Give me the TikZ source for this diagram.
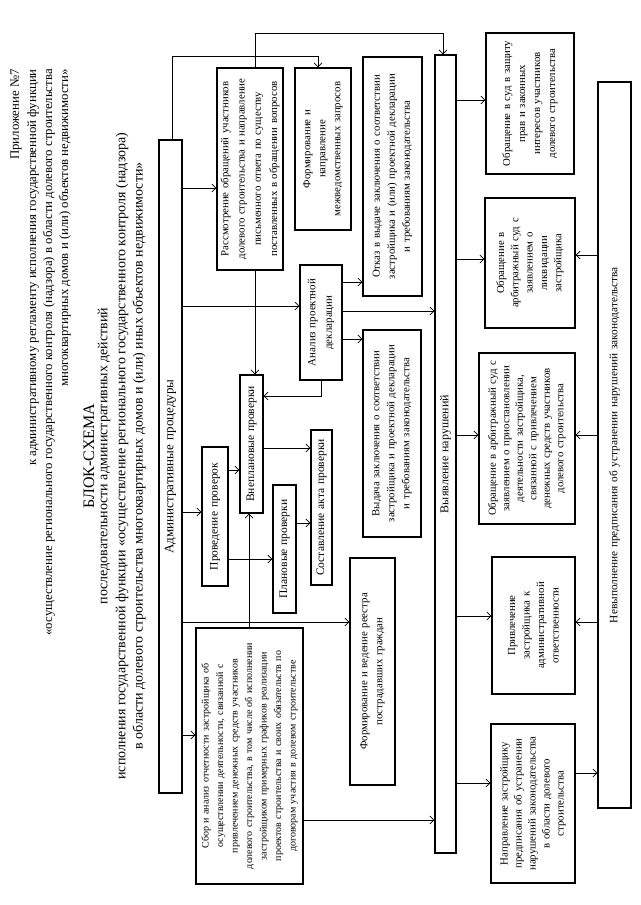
\documentclass[tikz,border=0pt]{standalone}
\usepackage{fontspec}
\setmainfont{Liberation Serif}
\usetikzlibrary{arrows.meta}
\tikzset{
 box/.style={draw, line width=1.4pt, rotate=90, align=center, inner sep=1pt, font=\fontsize{10.8}{15}\selectfont},
 one/.style={font=\fontsize{11.5}{14}\selectfont},
 arr/.style={line width=0.6pt, -{Straight Barb[length=4pt,width=8pt]}},
 hdr/.style={rotate=90, anchor=east, font=\fontsize{12.8}{14}\selectfont, inner sep=0pt},
 ttl/.style={rotate=90, anchor=center, font=\fontsize{14}{16}\selectfont, inner sep=0pt},
}
\newcommand\bx[7][]{%
 \pgfmathsetmacro\bxw{#6-#4}\pgfmathsetmacro\bxh{#5-#3}\pgfmathsetmacro\bxt{#6-#4-2}%
 \pgfmathsetmacro\bxcx{(#3+#5)/2}\pgfmathsetmacro\bxcy{(#4+#6)/2}%
 \node[box,minimum width=\bxw pt,minimum height=\bxh pt,text width=\bxt pt,#1] (#2) at (\bxcx,\bxcy) {#7};}
\begin{document}
\begin{tikzpicture}[x=1pt,y=-1pt]
\fill[white] (0,0) rectangle (640,905);
\useasboundingbox (0,0) rectangle (640,905);
% header
\node[hdr] (h1) at (16,69) {Приложение №7};
\node[hdr] (h2) at (33,69) {к административному регламенту исполнения государственной функции};
\node[hdr] (h3) at (49,69) {«осуществление регионального государственного контроля (надзора) в области долевого строительства};
\node[hdr] (h4) at (65,69) {многоквартирных домов и (или) объектов недвижимости»};
% title
\node[ttl,font=\fontsize{16}{18}\selectfont] (t1) at (89,456) {БЛОК-СХЕМА};
\node[ttl] (t2) at (104,456) {последовательности административных действий};
\node[ttl] (t3) at (122,456) {исполнения государственной функции «осуществление регионального государственного контроля (надзора)};
\node[ttl] (t4) at (139,456) {в области долевого строительства многоквартирных домов и (или) иных объектов недвижимости»};
% boxes
\bx[font=\fontsize{13}{14}\selectfont]{admin}{159}{140}{182}{793}{Административные процедуры}
\bx[font=\fontsize{10.8}{16.2}\selectfont]{ras}{217}{68}{283}{270}{Рассмотрение обращений участников\\долевого строительства и направление\\письменного ответа по существу\\поставленных в обращении вопросов}
\bx{mezh}{295}{68}{351}{230}{Формирование и\\направление\\межведомственных запросов}
\bx[font=\fontsize{11}{16.5}\selectfont]{analiz}{300}{265}{342}{380}{Анализ проектной\\декларации}
\bx{otkaz}{363}{57}{422}{296}{Отказ в выдаче заключения о соответствии\\застройщика и (или) проектной декларации\\и требованиям законодательства}
\bx{vydacha}{363}{330}{421}{537}{Выдача заключения о соответствии\\застройщика и проектной декларации\\и требованиям законодательства}
\bx[one]{vnepl}{240}{375}{263}{513}{Внеплановые проверки}
\bx[one]{proved}{202}{447}{228}{586}{Проведение проверок}
\bx[one]{plan}{273}{485}{296}{613}{Плановые проверки}
\bx[one]{sost}{311}{430}{332}{585}{Составление акта проверки}
\bx{reestr}{350}{558}{395}{785}{Формирование и ведение реестра\\пострадавших граждан}
\bx[font=\fontsize{10}{14.5}\selectfont]{sbor}{196}{628}{303}{884}{Сбор и анализ отчетности застройщика об\\осуществлении деятельности, связанной с\\привлечением денежных средств участников\\долевого строительства, в том числе об исполнении\\застройщиком примерных графиков реализации\\проектов строительства и своих обязательств по\\договорам участия в долевом строительстве}
\bx[font=\fontsize{12}{14}\selectfont]{vyyav}{435}{55}{456}{853}{Выявление нарушений}
\bx{sud1}{486}{33}{574}{174}{Обращение в суд в защиту\\прав и законных\\интересов участников\\долевого строительства}
\bx[font=\fontsize{10.8}{14.3}\selectfont]{sud2}{485}{198}{575}{328}{Обращение в\\арбитражный суд с\\заявлением о\\ликвидации\\застройщика}
\bx[font=\fontsize{10.8}{13.5}\selectfont]{sud3}{479}{353}{575}{524}{Обращение в арбитражный суд с\\заявлением о приостановлении\\деятельности застройщика,\\связанной с привлечением\\денежных средств участников\\долевого строительства}
\bx[font=\fontsize{10.8}{14.5}\selectfont]{priv}{492}{557}{575}{694}{Привлечение\\застройщика к\\административной\\ответственности}
\bx[font=\fontsize{10.8}{14}\selectfont]{napr}{491}{724}{575}{883}{Направление застройщику\\предписания об устранении\\нарушений законодательства\\в области долевого\\строительства}
\bx[font=\fontsize{11.3}{13}\selectfont]{nevyp}{598}{82}{631}{808}{Невыполнение предписания об устранении нарушений законодательства}
% connectors
\draw[arr] (admin.east -| 172,0) -- (172,56) -| (mezh.east -| 318,0);
\draw[arr] (ras.east -| 255,0) -- (255,33) -| (vyyav.east -| 443,0);
\draw[arr] (admin.south |- 0,188) -- (ras.north |- 0,188);
\draw[arr] (admin.south |- 0,306) -- (analiz.north |- 0,306);
\draw[arr] (admin.south |- 0,512) -- (proved.north |- 0,512);
\draw[arr] (admin.south |- 0,622) -- (reestr.north |- 0,622);
\draw[arr] (admin.south |- 0,735) -- (sbor.north |- 0,735);
\draw[arr] (sbor.east -| 249,0) -- (vnepl.west -| 249,0);
\draw[arr] (sbor.south |- 0,820) -- (vyyav.north |- 0,820);
\draw[arr] (ras.west -| 255,0) -- (vnepl.east -| 255,0);
\draw[arr] (analiz.west -| 321,0) |- (vnepl.south |- 0,396);
\draw[arr] (proved.south |- 0,470) -- (vnepl.north |- 0,470);
\draw[arr] (proved.south |- 0,559) -- (plan.north |- 0,559);
\draw[arr] (vnepl.south |- 0,448) -- (sost.north |- 0,448);
\draw[arr] (plan.south |- 0,523) -- (sost.north |- 0,523);
\draw[arr] (analiz.south |- 0,282) -- (otkaz.north |- 0,282);
\draw[arr] (analiz.south |- 0,311) -- (vyyav.north |- 0,311);
\draw[arr] (analiz.south |- 0,339) -- (vydacha.north |- 0,339);
\draw[arr] (vyyav.south |- 0,100) -- (sud1.north |- 0,100);
\draw[arr] (vyyav.south |- 0,259) -- (sud2.north |- 0,259);
\draw[arr] (vyyav.south |- 0,435) -- (sud3.north |- 0,435);
\draw[arr] (vyyav.south |- 0,616) -- (priv.north |- 0,616);
\draw[arr] (vyyav.south |- 0,783) -- (napr.north |- 0,783);
\draw[arr] (nevyp.north |- 0,255) -- (sud2.south |- 0,255);
\draw[arr] (nevyp.north |- 0,435) -- (sud3.south |- 0,435);
\draw[arr] (nevyp.north |- 0,622) -- (priv.south |- 0,622);
\draw[arr] (napr.south |- 0,773) -- (nevyp.north |- 0,773);
\end{tikzpicture}
\end{document}
